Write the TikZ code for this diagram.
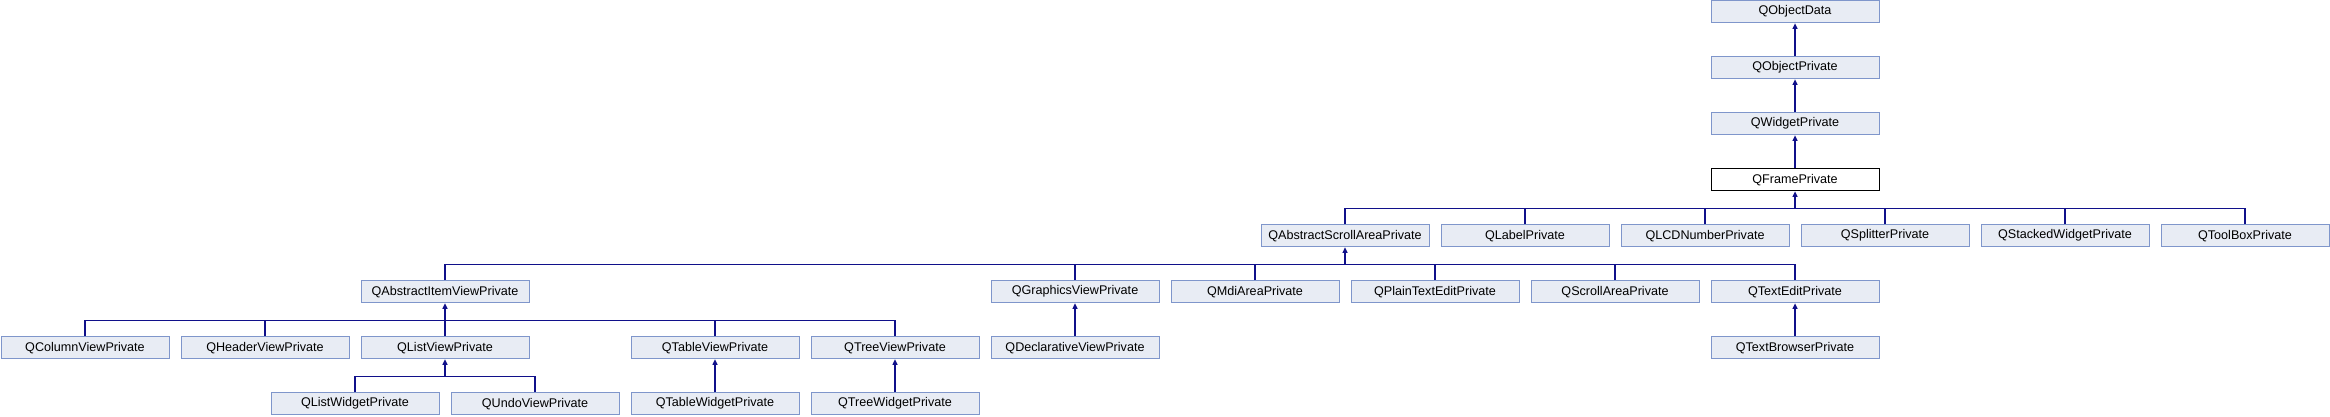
\documentclass[tikz,border=0pt]{standalone}
\usepackage{fontspec}
\setmainfont{Liberation Sans}
\usepackage{xcolor}
\usepackage{tikz}
\usetikzlibrary{arrows.meta,positioning}
\definecolor{clsfill}{HTML}{E8ECF4}
\definecolor{clsdraw}{HTML}{7F96CB}
\definecolor{edgeblue}{HTML}{10108A}

\begin{document}
\begin{tikzpicture}[x=1pt, y=-1pt,
  cls/.style={draw=clsdraw, fill=clsfill, line width=1pt, minimum width=168pt,
              minimum height=22.3pt, inner sep=0pt, font=\fontsize{12.6}{14}\selectfont},
  cur/.style={cls, draw=black, fill=white},
  arrow/.style={-{Triangle[length=5.5pt, width=5pt]}, edgeblue, line width=1.2pt},
  link/.style={edgeblue, line width=1.2pt},
]
\useasboundingbox (0,0) rectangle (2330,416);
% top chain
\node[cls] (objdata) at (1795, 11.7) {QObjectData};
\node[cls] (objpriv) at (1795, 67.7) {QObjectPrivate};
\node[cls] (widgetpriv) at (1795, 123.7) {QWidgetPrivate};
\node[cur] (framepriv) at (1795, 179.7) {QFramePrivate};
% row 5
\node[cls] (abstractscroll) at (1345, 235.7) {QAbstractScrollAreaPrivate};
\node[cls] (label) at (1525, 235.7) {QLabelPrivate};
\node[cls] (lcdnumber) at (1705, 235.7) {QLCDNumberPrivate};
\node[cls] (splitter) at (1885, 235.7) {QSplitterPrivate};
\node[cls] (stacked) at (2065, 235.7) {QStackedWidgetPrivate};
\node[cls] (toolbox) at (2245, 235.7) {QToolBoxPrivate};
% row 6
\node[cls] (abstractitem) at (445, 291.7) {QAbstractItemViewPrivate};
\node[cls] (graphicsview) at (1075, 291.7) {QGraphicsViewPrivate};
\node[cls] (mdiarea) at (1255, 291.7) {QMdiAreaPrivate};
\node[cls] (plaintext) at (1435, 291.7) {QPlainTextEditPrivate};
\node[cls] (scrollarea) at (1615, 291.7) {QScrollAreaPrivate};
\node[cls] (textedit) at (1795, 291.7) {QTextEditPrivate};
% row 7
\node[cls] (columnview) at (85, 347.7) {QColumnViewPrivate};
\node[cls] (headerview) at (265, 347.7) {QHeaderViewPrivate};
\node[cls] (listview) at (445, 347.7) {QListViewPrivate};
\node[cls] (tableview) at (715, 347.7) {QTableViewPrivate};
\node[cls] (treeview) at (895, 347.7) {QTreeViewPrivate};
\node[cls] (declarative) at (1075, 347.7) {QDeclarativeViewPrivate};
\node[cls] (textbrowser) at (1795, 347.7) {QTextBrowserPrivate};
% row 8
\node[cls] (listwidget) at (355, 403.7) {QListWidgetPrivate};
\node[cls] (undoview) at (535, 403.7) {QUndoViewPrivate};
\node[cls] (tablewidget) at (715, 403.7) {QTableWidgetPrivate};
\node[cls] (treewidget) at (895, 403.7) {QTreeWidgetPrivate};
% single links
\draw[arrow] (objpriv) -- (objdata);
\draw[arrow] (widgetpriv) -- (objpriv);
\draw[arrow] (framepriv) -- (widgetpriv);
\draw[arrow] (declarative) -- (graphicsview);
\draw[arrow] (textbrowser) -- (textedit);
\draw[arrow] (tablewidget) -- (tableview);
\draw[arrow] (treewidget) -- (treeview);
% buses
\coordinate[below=17pt of framepriv] (framebus);
\coordinate[below=17pt of abstractscroll] (scrollbus);
\coordinate[below=17pt of abstractitem] (itembus);
\coordinate[below=17pt of listview] (listbus);
\foreach \c in {abstractscroll,label,lcdnumber,splitter,stacked,toolbox}
  \draw[link] (\c.north) |- (framebus);
\foreach \c in {abstractitem,graphicsview,mdiarea,plaintext,scrollarea,textedit}
  \draw[link] (\c.north) |- (scrollbus);
\foreach \c in {columnview,headerview,listview,tableview,treeview}
  \draw[link] (\c.north) |- (itembus);
\foreach \c in {listwidget,undoview}
  \draw[link] (\c.north) |- (listbus);
\draw[arrow] (framebus) -- (framepriv);
\draw[arrow] (scrollbus) -- (abstractscroll);
\draw[arrow] (itembus) -- (abstractitem);
\draw[arrow] (listbus) -- (listview);
\end{tikzpicture}
\end{document}
